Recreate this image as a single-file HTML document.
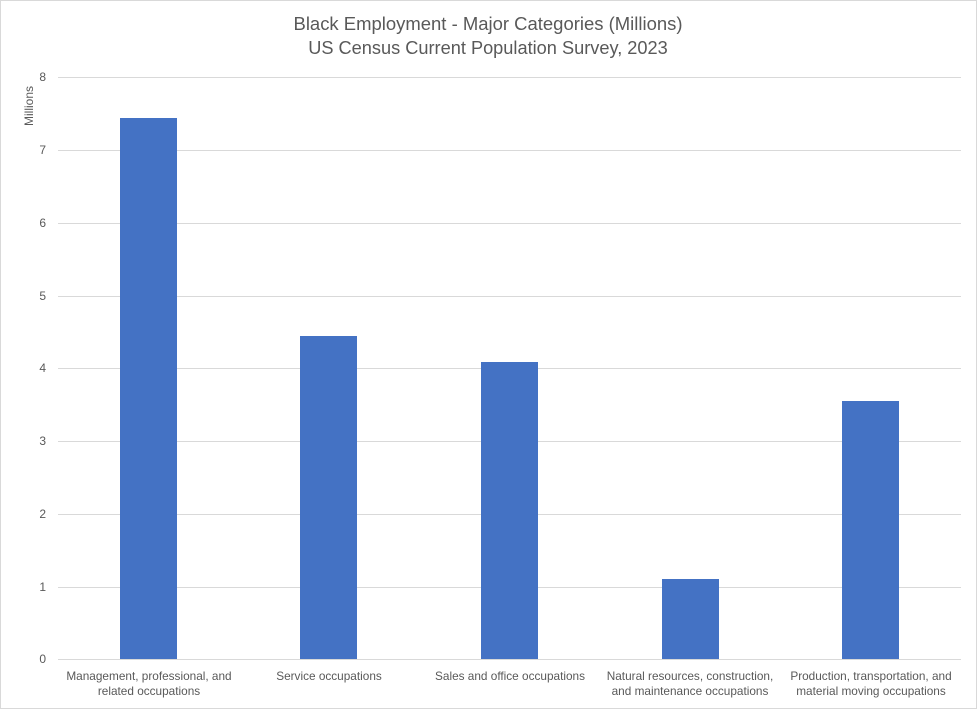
<!DOCTYPE html>
<html><head><meta charset="utf-8"><style>
html,body{margin:0;padding:0;background:#fff}
svg{display:block}
text{font-family:"Liberation Sans",sans-serif;fill:#595959}
</style></head><body>
<svg width="977" height="709" viewBox="0 0 977 709" xmlns="http://www.w3.org/2000/svg">
<rect x="0.5" y="0.5" width="976" height="708" fill="#fff" stroke="#d9d9d9"/>
<text x="488" y="30" font-size="18.2" text-anchor="middle" textLength="389" lengthAdjust="spacingAndGlyphs">Black Employment - Major Categories (Millions)</text>
<text x="488" y="54" font-size="18.2" text-anchor="middle">US Census Current Population Survey, 2023</text>
<g stroke="#d9d9d9" stroke-width="1">
<line x1="58" x2="961" y1="77.5" y2="77.5"/>
<line x1="58" x2="961" y1="150.5" y2="150.5"/>
<line x1="58" x2="961" y1="223.5" y2="223.5"/>
<line x1="58" x2="961" y1="296.5" y2="296.5"/>
<line x1="58" x2="961" y1="368.5" y2="368.5"/>
<line x1="58" x2="961" y1="441.5" y2="441.5"/>
<line x1="58" x2="961" y1="514.5" y2="514.5"/>
<line x1="58" x2="961" y1="587.5" y2="587.5"/>
<line x1="58" x2="961" y1="659.5" y2="659.5"/>
</g>
<g font-size="12" text-anchor="end">
<text x="46" y="81">8</text><text x="46" y="154">7</text><text x="46" y="227">6</text>
<text x="46" y="300">5</text><text x="46" y="372">4</text><text x="46" y="445">3</text>
<text x="46" y="518">2</text><text x="46" y="591">1</text><text x="46" y="663">0</text>
</g>
<text transform="translate(33,106) rotate(-90)" font-size="12" text-anchor="middle">Millions</text>
<g fill="#4472c4">
<rect x="120" y="118" width="57" height="541"/>
<rect x="300" y="336" width="57" height="323"/>
<rect x="481" y="362" width="57" height="297"/>
<rect x="662" y="579" width="57" height="80"/>
<rect x="842" y="401" width="57" height="258"/>
</g>
<g font-size="11.8" text-anchor="middle">
<text x="149" y="680">Management, professional, and</text>
<text x="149" y="695">related occupations</text>
<text x="329" y="680">Service occupations</text>
<text x="510" y="680">Sales and office occupations</text>
<text x="690" y="680">Natural resources, construction,</text>
<text x="690" y="695">and maintenance occupations</text>
<text x="871" y="680">Production, transportation, and</text>
<text x="871" y="695">material moving occupations</text>
</g>
</svg>
</body></html>
